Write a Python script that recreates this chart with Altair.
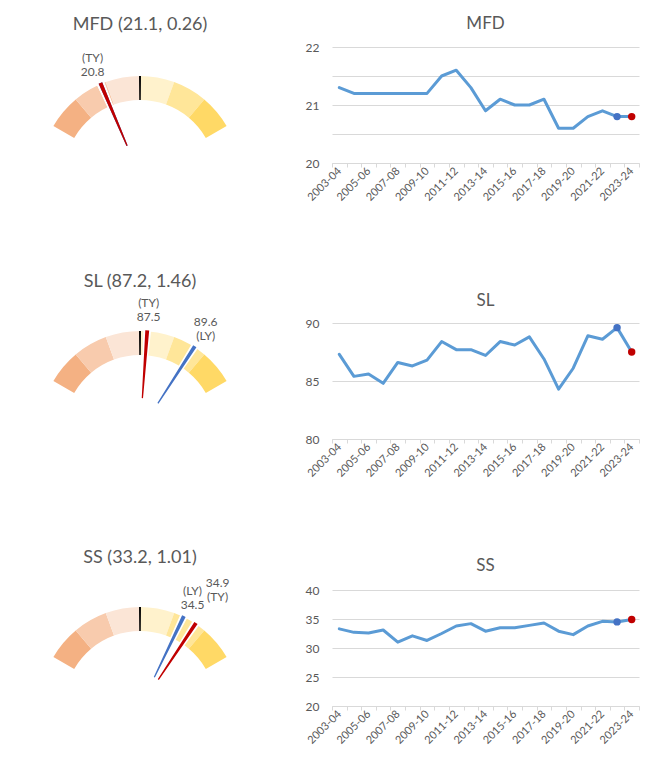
import math
import altair as alt
import pandas as pd

# ---------------- data ----------------
years = ["2003-04", "2004-05", "2005-06", "2006-07", "2007-08", "2008-09", "2009-10",
         "2010-11", "2011-12", "2012-13", "2013-14", "2014-15", "2015-16", "2016-17",
         "2017-18", "2018-19", "2019-20", "2020-21", "2021-22", "2022-23", "2023-24"]
mfd_values = [21.3, 21.2, 21.2, 21.2, 21.2, 21.2, 21.2, 21.5, 21.6, 21.3, 20.9,
              21.1, 21.0, 21.0, 21.1, 20.6, 20.6, 20.8, 20.9, 20.8, 20.8]
sl_values = [87.3, 85.4, 85.6, 84.8, 86.6, 86.3, 86.8, 88.4, 87.7, 87.7, 87.2,
             88.4, 88.1, 88.8, 86.9, 84.3, 86.1, 88.9, 88.6, 89.6, 87.5]
ss_values = [33.3, 32.7, 32.6, 33.1, 31.0, 32.1, 31.3, 32.5, 33.8, 34.2, 32.9,
             33.5, 33.5, 33.9, 34.3, 32.9, 32.3, 33.8, 34.6, 34.5, 34.9]
series_names = ["MFD", "SL", "SS"]
series_values = [mfd_values, sl_values, ss_values]
series_means = [21.1, 87.2, 33.2]
series_sds = [0.26, 1.46, 1.01]
y_domains = [[20, 22], [80, 90], [20, 40]]
y_ticks = [[20, 20.5, 21, 21.5, 22], [80, 85, 90], [20, 25, 30, 35, 40]]
band_edges = [-3, -2, -1, 0, 1, 2, 3]          # in standard deviations
band_colors = ["#F4B183", "#F8CBAD", "#FBE5D6", "#FFF2CC", "#FFE699", "#FFD966"]
needle_kinds = ["LY", "TY"]
needle_colors = ["#4472C4", "#C00000"]
line_color = "#5B9BD5"

# ---------------- style / layout ----------------
TEXT = "#595959"
GRID = "#D9D9D9"
FONT = "Lato"

GW, CX = 264, 132            # gauge panel width and centre x
RO, RI, RN = 100, 76, 33     # outer, inner ring radius, needle inner radius
NHW = 0.055                  # needle half width (sd units)
GAP = 0.055                  # white gap beside needles (sd units)
LW, LH = 307, 116            # line panel plot size
LINE_H = 14                  # label line height

gauge_cy = [129, 108, 117]
gauge_h = [276, 267, 116]
gauge_title_y = [-22.5, -41.5, -32]
line_title_offset = [8, 7.5, 9.5]

theta_scale = alt.Scale(domain=[-3, 3], range=[-math.pi / 3, math.pi / 3], clamp=True)


def gauge(i):
    name, vals = series_names[i], series_values[i]
    m, s = series_means[i], series_sds[i]
    cy = gauge_cy[i]
    pos = dict(x=alt.value(CX), y=alt.value(cy))

    bands = pd.DataFrame({"k0": band_edges[:-1], "k1": band_edges[1:], "color": band_colors})
    band_layer = alt.Chart(bands).mark_arc(innerRadius=RI, outerRadius=RO).encode(
        theta=alt.Theta("k0:Q", scale=theta_scale, stack=None),
        theta2="k1:Q",
        color=alt.Color("color:N", scale=None),
        **pos,
    )

    mean_layer = alt.Chart(pd.DataFrame({"v": [m]})).transform_calculate(
        z=f"(datum.v - {m}) / {s}",
    ).transform_calculate(
        k0="datum.z - 0.028", k1="datum.z + 0.028"
    ).mark_arc(innerRadius=RI, outerRadius=RO, color="#000000").encode(
        theta=alt.Theta("k0:Q", scale=theta_scale, stack=None), theta2="k1:Q", **pos
    )

    ly_v, ty_v = vals[-2], vals[-1]
    nd = pd.DataFrame({"kind": needle_kinds, "value": [ly_v, ty_v], "color": needle_colors})
    nbase = alt.Chart(nd).transform_calculate(z=f"clamp((datum.value - {m}) / {s}, -3, 3)")
    gap_layer = nbase.transform_calculate(
        k0=f"datum.z - {NHW + GAP}", k1=f"datum.z + {NHW + GAP}"
    ).mark_arc(innerRadius=RI - 1, outerRadius=RO + 1, color="#FFFFFF").encode(
        theta=alt.Theta("k0:Q", scale=theta_scale, stack=None), theta2="k1:Q", **pos
    )
    needle_layer = nbase.transform_calculate(
        k0=f"datum.z - {NHW}", k1=f"datum.z + {NHW}"
    ).mark_arc(innerRadius=RN, outerRadius=RO + 1).encode(
        theta=alt.Theta("k0:Q", scale=theta_scale, stack=None), theta2="k1:Q",
        color=alt.Color("color:N", scale=None), **pos
    )

    # needle labels
    show = [("LY", ly_v), ("TY", ty_v)] if ly_v != ty_v else [("TY", ty_v)]
    zs = {k: (v - m) / s for k, v in show}
    rows = []
    for k, v in show:
        z = zs[k]
        lines = [f"({k})", f"{v}"] if z * 20 < 30 else [f"{v}", f"({k})"]
        r = 121
        for k2, _ in show:
            if k2 != k and 0 < z - zs[k2] < 0.6:
                r = 140
        rows.append({"kind": k, "value": v, "lines": lines, "r": r})
    lab = pd.DataFrame(rows)
    label_layer = alt.Chart(lab).transform_calculate(
        a=f"clamp((datum.value - {m}) / {s}, -3, 3) * PI / 9"
    ).transform_calculate(
        lx=f"{CX} + datum.r * sin(datum.a)",
        ly=f"{cy} - datum.r * cos(datum.a) - {LINE_H / 2}",
    ).mark_text(fontSize=12, font=FONT, color=TEXT, lineHeight=LINE_H, baseline="middle",
                align="center").encode(
        x=alt.X("lx:Q", scale=None, axis=None),
        y=alt.Y("ly:Q", scale=None, axis=None),
        text=alt.Text("lines:N"),
    )

    title_layer = alt.Chart(pd.DataFrame({"t": [f"{name} ({m}, {s})"]})).mark_text(
        fontSize=18, font=FONT, color=TEXT, baseline="middle", align="center"
    ).encode(x=alt.value(CX), y=alt.value(gauge_title_y[i]), text="t:N")

    return alt.layer(band_layer, mean_layer, gap_layer, needle_layer, label_layer,
                     title_layer).properties(width=GW, height=gauge_h[i])


def line_chart(i):
    name, vals = series_names[i], series_values[i]
    df = pd.DataFrame({"year": years, "value": vals})
    pts = pd.DataFrame({"year": years[-2:], "value": vals[-2:], "color": needle_colors})
    x = alt.X(
        "year:N", sort=years, bandPosition=0.5,
        scale=alt.Scale(type="band", paddingInner=0, paddingOuter=0),
        axis=alt.Axis(title=None, labelAngle=315, labelAlign="right", labelBaseline="middle",
                      labelExpr="toNumber(substring(datum.value, 0, 4)) % 2 == 1 ? datum.value : ''",
                      tickBand="extent", tickSize=4, tickColor=GRID, domainColor=GRID,
                      labelColor=TEXT, labelFontSize=11, labelFont=FONT, labelPadding=2,
                      grid=False, labelOverlap=False),
    )
    y = alt.Y(
        "value:Q",
        scale=alt.Scale(domain=y_domains[i], nice=False, zero=False),
        axis=alt.Axis(title=None, values=y_ticks[i],
                      labelExpr="datum.value % 1 == 0 ? format(datum.value, 'd') : ''",
                      domain=False, ticks=False, gridColor=GRID, gridWidth=1,
                      labelPadding=13, labelFontSize=12, labelFont=FONT, labelColor=TEXT),
    )
    line = alt.Chart(df).mark_line(color=line_color, strokeWidth=3, strokeJoin="round",
                                   strokeCap="round").encode(x=x, y=y)
    dots = alt.Chart(pts).mark_circle(size=55, opacity=1).encode(
        x=x, y=y, color=alt.Color("color:N", scale=None))
    return alt.layer(line, dots).properties(
        width=LW, height=LH,
        title=alt.Title(name, fontSize=17, font=FONT, color=TEXT, fontWeight="normal",
                        offset=line_title_offset[i], frame="group", anchor="middle"),
    )


panels = []
for i in range(3):
    panels.append(gauge(i))
    panels.append(line_chart(i))

chart = alt.concat(
    *panels, columns=2, spacing={"row": 0, "column": 60}, bounds="flush", align="each"
).properties(
    padding={"top": 7, "left": 0, "right": 0, "bottom": 0}
).configure_view(stroke=None)

chart.save("out.html", embed_options={"renderer": "svg", "actions": False})
